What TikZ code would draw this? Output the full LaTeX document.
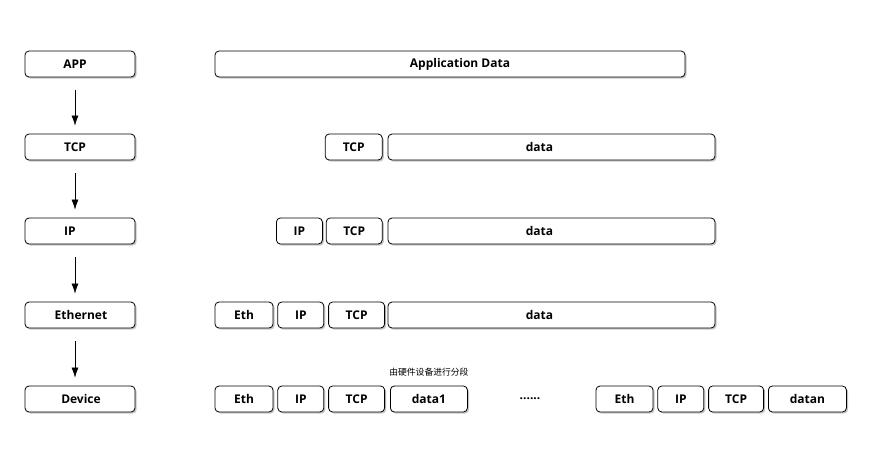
\documentclass[tikz,border=0pt]{standalone}
\usepackage{fontspec}
\setmainfont{Open Sans}
\newfontfamily\cjk{Noto Sans CJK SC}
\usetikzlibrary{positioning,shadows,arrows.meta}

% move a box text sideways by #1
\newcommand\nudge[2]{\hspace*{#1}\hspace*{#1}#2}

\begin{document}
\begin{tikzpicture}[x=1pt,y=-1pt,node distance=4pt,
	box/.style={rounded corners=4pt,draw,thick,fill=white,minimum height=26pt,inner sep=0pt,
		font=\bfseries\fontsize{12}{14}\selectfont,
		drop shadow={shadow xshift=1.6pt,shadow yshift=-1.6pt,fill=black!45,opacity=.5}},
	layer node/.style={box,minimum width=110pt},
	down/.style={-{Latex[length=10pt,width=7pt]},semithick,shorten <=13pt,shorten >=8pt}]

	\useasboundingbox (0,0) rectangle (870,448);

	% left column
	\node[layer node] (app) at (80,64) {\nudge{-5pt}{APP}};
	\node[layer node] (tcp) at (80,147) {\nudge{-5pt}{TCP}};
	\node[layer node] (ip) at (80,231) {\nudge{-10pt}{IP}};
	\node[layer node] (eth) at (80,315) {\nudge{1pt}{Ethernet}};
	\node[layer node] (dev) at (80,399) {\nudge{1pt}{Device}};

	\foreach \a/\b in {app/tcp,tcp/ip,ip/eth,eth/dev}
		\draw[down] ([xshift=-5pt]\a.south) -- ([xshift=-5pt]\b.north);

	% app data
	\node[box,minimum width=470pt] (appdata) at (450,64) {\nudge{10pt}{Application Data}};

	% tcp segment
	\node[box,minimum width=327pt] (tcpdata) at (551.5,147) {\nudge{-12pt}{data}};
	\node[box,minimum width=57pt,left=5pt of tcpdata] (tcphdr) {TCP};

	% ip packet
	\node[box,minimum width=327pt] (ipdata) at (551.5,231) {\nudge{-12pt}{data}};
	\node[box,minimum width=56pt,left=5pt of ipdata] (iptcp) {TCP};
	\node[box,minimum width=46pt,left=3pt of iptcp] (iphdr) {IP};

	% ethernet frame
	\node[box,minimum width=58pt] (ethhdr) at (244,315) {Eth};
	\node[box,minimum width=46pt,right=4pt of ethhdr] (ethip) {IP};
	\node[box,minimum width=56pt,right=4pt of ethip] (ethtcp) {TCP};
	\node[box,minimum width=327pt] (ethdata) at (551.5,315) {\nudge{-12pt}{data}};

	% device segments
	\node[box,minimum width=58pt] (d1eth) at (244,399) {Eth};
	\node[box,minimum width=46pt,right=4pt of d1eth] (d1ip) {IP};
	\node[box,minimum width=56pt,right=4pt of d1ip] (d1tcp) {TCP};
	\node[box,minimum width=77pt,right=5pt of d1tcp] (d1data) {data1};
	\node[font=\cjk\fontsize{8.8}{10}\selectfont,above=6pt of d1data] (seg) {由硬件设备进行分段};
	\node[font=\bfseries\fontsize{12}{14}\selectfont] (dots) at (530,399) {......};
	\node[box,minimum width=57pt] (dneth) at (624.5,399) {Eth};
	\node[box,minimum width=46pt,right=4pt of dneth] (dnip) {IP};
	\node[box,minimum width=55pt,right=4pt of dnip] (dntcp) {TCP};
	\node[box,minimum width=78pt,right=4pt of dntcp] (dndata) {datan};
\end{tikzpicture}
\end{document}
